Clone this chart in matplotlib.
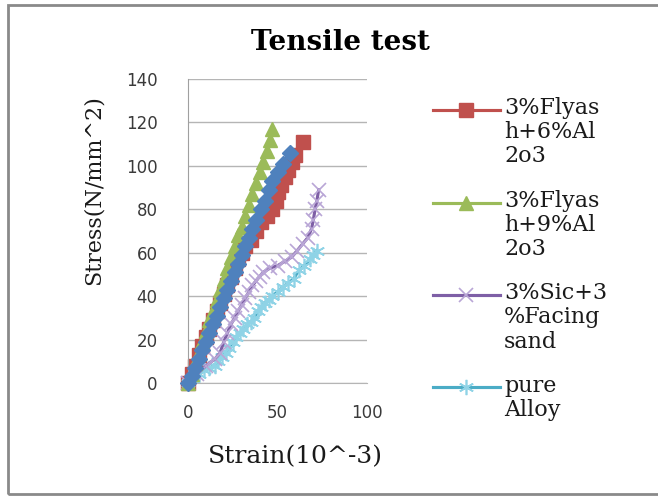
import matplotlib
matplotlib.use("Agg")
import matplotlib.pyplot as plt
from matplotlib.lines import Line2D
from matplotlib.patches import Rectangle
from matplotlib.legend_handler import HandlerLine2D

# ---------------- data ----------------
blue_strain = [0, 2, 4, 6, 8, 10, 12, 14, 16, 18, 20, 22, 24, 26, 28, 30, 32, 34, 36, 38, 41, 43, 45, 47, 50, 53, 57]
blue_stress = [0, 3, 7, 11, 15, 19, 23, 27, 31, 35, 39, 43, 47, 51, 55, 59, 63, 67, 71, 75, 80, 84, 89, 93, 97, 101, 106]

red_strain = [0, 2, 4, 6, 8, 10, 12, 14, 16, 18, 20, 22, 24, 26, 28, 30, 32, 35, 38, 41, 44, 47, 49, 50, 52, 54, 56, 58, 60, 64]
red_stress = [0, 4, 8, 13, 17, 21, 25, 29, 33, 37, 41, 45, 49, 53, 57, 60, 63, 66, 70, 74, 77, 80, 84, 88, 91, 95, 98, 102, 105, 111]

green_strain = [0, 2, 4, 6, 8, 10, 12, 14, 16, 18, 20, 22, 24, 26, 28, 30, 32, 34, 36, 38, 40, 42, 44, 46, 47]
green_stress = [0, 4, 9, 14, 19, 24, 29, 33, 38, 43, 48, 53, 58, 63, 68, 72, 77, 82, 87, 92, 97, 102, 107, 112, 117]

purple_strain = [0, 5, 10, 15, 18, 20, 22, 24, 26, 28, 30, 32, 34, 36, 38, 40, 42, 46, 50, 54, 58, 61, 64, 67, 69, 70, 71, 72, 73]
purple_stress = [0, 4, 8, 11, 14, 19, 23, 27, 30, 33, 36, 39, 42, 45, 47, 49, 51, 53, 54, 56, 58, 61, 64, 67, 71, 75, 80, 84, 89]

cyan_strain = [0, 3, 6, 9, 12, 15, 17, 19, 21, 23, 25, 27, 29, 31, 33, 35, 37, 39, 41, 43, 45, 47, 50, 53, 56, 59, 62, 65, 68, 70, 72]
cyan_stress = [0, 2, 4, 6, 7, 8, 10, 12, 14, 16, 19, 21, 23, 25, 27, 28, 30, 33, 35, 37, 38, 40, 42, 44, 46, 48, 52, 54, 57, 59, 61]

legend_labels = ["3%Flyas\nh+6%Al\n2o3", "3%Flyas\nh+9%Al\n2o3", "3%Sic+3\n%Facing\nsand", "pure\nAlloy"]
title = "Tensile test"
xlabel = "Strain(10^-3)"
ylabel = "Stress(N/mm^2)"
xticks = [0, 50, 100]
yticks = [0, 20, 40, 60, 80, 100, 120, 140]

# ---------------- figure ----------------
W, H = 658, 497
fig = plt.figure(figsize=(W / 100, H / 100), dpi=100)
fig.patch.set_facecolor("white")

# outer border (right edge lies outside the picture)
fig.patches.append(Rectangle((8 / W, 1 - 494 / H), 700 / W, 489 / H, transform=fig.transFigure,
                             fill=False, edgecolor="#8a8a8a", linewidth=2.0, zorder=0))

ax = fig.add_axes([188 / W, 1 - 383 / H, (367 - 188) / W, (383 - 79) / H])
ax.set_xlim(0, 100)
ax.set_ylim(0, 140)
ax.set_xticks(xticks)
ax.set_yticks(yticks)
ax.grid(axis="y", color="#b5b5b5", linewidth=1.0)
ax.set_axisbelow(True)
for s in ["top", "right"]:
    ax.spines[s].set_visible(False)
ax.spines["left"].set_color("#a0a0a0")
ax.spines["bottom"].set_color("#b5b5b5")
ax.tick_params(axis="both", length=0, labelsize=12, labelcolor="#3a3a3a")
ax.tick_params(axis="y", pad=22)
ax.tick_params(axis="x", pad=15)

C_BLUE = "#4F81BD"
C_RED = "#C0504D"
C_GREEN = "#9BBB59"
C_PURPLE = "#7E5FA6"
C_CYAN = "#4BACC6"

lr, = ax.plot(red_strain, red_stress, color=C_RED, lw=2.25, marker="s", ms=10,
              mfc=C_RED, mec=C_RED, clip_on=False, zorder=2)
lg, = ax.plot(green_strain, green_stress, color=C_GREEN, lw=2.25, marker="^", ms=10,
              mfc=C_GREEN, mec=C_GREEN, clip_on=False, zorder=2.5)
lb, = ax.plot(blue_strain, blue_stress, color=C_BLUE, lw=2.25, marker="D", ms=8,
              mfc=C_BLUE, mec=C_BLUE, clip_on=False, zorder=3)
lp, = ax.plot(purple_strain, purple_stress, color=C_PURPLE, lw=2.25, marker="x", ms=10,
              mec="#b9a6d6", mew=1.2, clip_on=False, zorder=2.2)
lc, = ax.plot(cyan_strain, cyan_stress, color=C_CYAN, lw=2.25, marker=(6, 2, 0), ms=11,
              mec="#8fd3e6", mew=1.2, clip_on=False, zorder=2.1)


class TopHandler(HandlerLine2D):
    def __init__(self, nlines, spacing, **kw):
        super().__init__(**kw)
        self.nlines = nlines
        self.spacing = spacing

    def create_artists(self, legend, orig_handle, xdescent, ydescent, width, height, fontsize, trans):
        arts = super().create_artists(legend, orig_handle, xdescent, ydescent, width, height, fontsize, trans)
        off = (self.nlines - 1) / 2 * self.spacing * fontsize
        for a in arts:
            if isinstance(a, Line2D):
                a.set_ydata([y + off for y in a.get_ydata()])
        return arts


LS = 1.13
handles = [lr, lg, lp, lc]
hmap = {h: TopHandler(lab.count("\n") + 1, LS * 0.76 * 1.2) for h, lab in zip(handles, legend_labels)}
leg = fig.legend(handles, legend_labels, loc="upper left",
                 bbox_to_anchor=(433 / W, 1 - 97 / H), bbox_transform=fig.transFigure,
                 frameon=False, handlelength=3.0, handletextpad=0.2, labelspacing=1.0,
                 borderpad=0, borderaxespad=0, handler_map=hmap,
                 prop={"family": "DejaVu Serif", "size": 16})
for t in leg.get_texts():
    t.set_linespacing(LS)
    t.set_color("#1a1a1a")

fig.text(340 / W, 1 - 42 / H, title, ha="center", va="center",
         fontfamily="DejaVu Serif", fontweight="bold", fontsize=20, color="black")
fig.text(295 / W, 1 - 457 / H, xlabel, ha="center", va="center",
         fontfamily="DejaVu Serif", fontsize=18, color="#1a1a1a")
fig.text(94 / W, 1 - 190 / H, ylabel, ha="center", va="center", rotation=90,
         fontfamily="DejaVu Serif", fontsize=16, color="#1a1a1a")

fig.savefig("out.png", dpi=100)
